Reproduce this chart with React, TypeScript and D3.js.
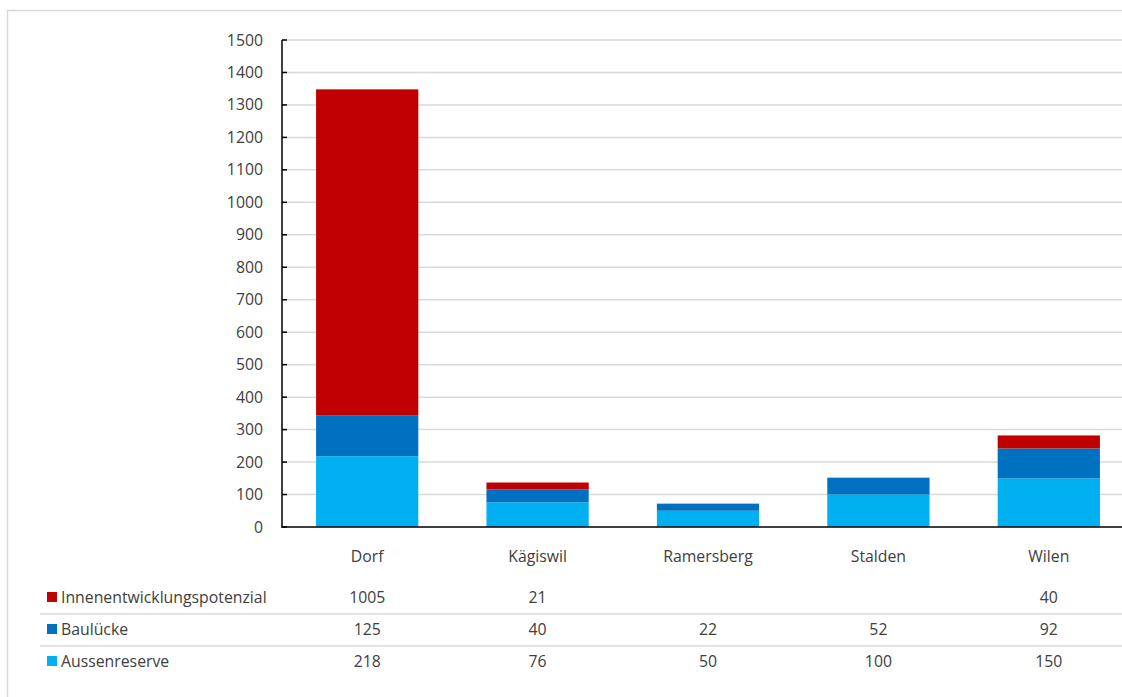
import React from "react";
import * as d3 from "d3";

const categories = ["Dorf", "Kägiswil", "Ramersberg", "Stalden", "Wilen"];
const seriesNames = ["Innenentwicklungspotenzial", "Baulücke", "Aussenreserve"];
const innen = [1005, 21, null, null, 40];
const bauluecke = [125, 40, 22, 52, 92];
const aussen = [218, 76, 50, 100, 150];
const yTicks = [0, 100, 200, 300, 400, 500, 600, 700, 800, 900, 1000, 1100, 1200, 1300, 1400, 1500];
const colors = ["#C00000", "#0070C0", "#00B0F0"];

const W = 1122;
const H = 697;
const FONT = "'Open Sans', Lato, sans-serif";
const TXT = "#404040";

export default function App() {
  const left = 282;
  const right = 1134;
  const top = 40;
  const bottom = 527;

  const x = d3.scaleBand<string>().domain(categories).range([left, right]).paddingInner(0.4).paddingOuter(0.2);
  const xc = d3.scaleBand<string>().domain(categories).range([left, right]);
  const y = d3.scaleLinear().domain([0, 1500]).range([bottom, top]);

  const rows = categories.map((c, i) => ({
    cat: c,
    Aussenreserve: aussen[i] ?? 0,
    Baulücke: bauluecke[i] ?? 0,
    Innenentwicklungspotenzial: innen[i] ?? 0,
  }));
  const stackKeys = ["Aussenreserve", "Baulücke", "Innenentwicklungspotenzial"];
  const stacked = d3.stack<any>().keys(stackKeys)(rows);
  const colorOf: Record<string, string> = {
    Innenentwicklungspotenzial: colors[0],
    Baulücke: colors[1],
    Aussenreserve: colors[2],
  };

  const tableData = [innen, bauluecke, aussen];
  const rowY = [597, 629, 661];
  const rowLines = [614, 646];
  const fs = 15.8;

  return (
    <svg width={W} height={H} style={{ position: "absolute", left: 0, top: 0 }} fontFamily={FONT}>
      <rect x={0} y={0} width={W} height={H} fill="#fff" />
      <rect x={7.5} y={10.5} width={W + 20} height={H + 20} fill="none" stroke="#d9d9d9" strokeWidth={1.5} />
      {yTicks.map((t) => (
        <g key={t}>
          {t > 0 && <line x1={left} x2={W} y1={y(t)} y2={y(t)} stroke="#d9d9d9" strokeWidth={1.5} />}
          <line x1={left} x2={left + 5} y1={y(t)} y2={y(t)} stroke="#000" strokeWidth={1.5} />
          <text x={263} y={y(t)} dy="0.35em" textAnchor="end" fontSize={fs} fill={TXT}>
            {t}
          </text>
        </g>
      ))}
      {stacked.map((s) =>
        s.map((d: any, i: number) =>
          d[1] - d[0] > 0 ? (
            <rect
              key={s.key + i}
              x={x(categories[i])}
              width={x.bandwidth()}
              y={y(d[1])}
              height={y(d[0]) - y(d[1])}
              fill={colorOf[s.key]}
            />
          ) : null
        )
      )}
      <line x1={left} x2={left} y1={top} y2={bottom + 1} stroke="#000" strokeWidth={1.5} />
      <line x1={left} x2={W} y1={bottom} y2={bottom} stroke="#000" strokeWidth={1.5} />
      {categories.map((c) => (
        <text key={c} x={(xc(c) as number) + xc.bandwidth() / 2} y={556} dy="0.35em" textAnchor="middle" fontSize={fs} fill={TXT}>
          {c}
        </text>
      ))}
      {rowLines.map((ly) => (
        <line key={ly} x1={40} x2={W} y1={ly} y2={ly} stroke="#d9d9d9" strokeWidth={1.5} />
      ))}
      {seriesNames.map((n, r) => (
        <g key={n}>
          <rect x={47} y={rowY[r] - 5} width={10} height={10} fill={colors[r]} />
          <text x={61} y={rowY[r]} dy="0.35em" fontSize={fs} fill={TXT}>
            {n}
          </text>
          {categories.map((c, i) =>
            tableData[r][i] != null ? (
              <text key={c} x={(xc(c) as number) + xc.bandwidth() / 2} y={rowY[r]} dy="0.35em" textAnchor="middle" fontSize={fs} fill={TXT}>
                {tableData[r][i]}
              </text>
            ) : null
          )}
        </g>
      ))}
    </svg>
  );
}
